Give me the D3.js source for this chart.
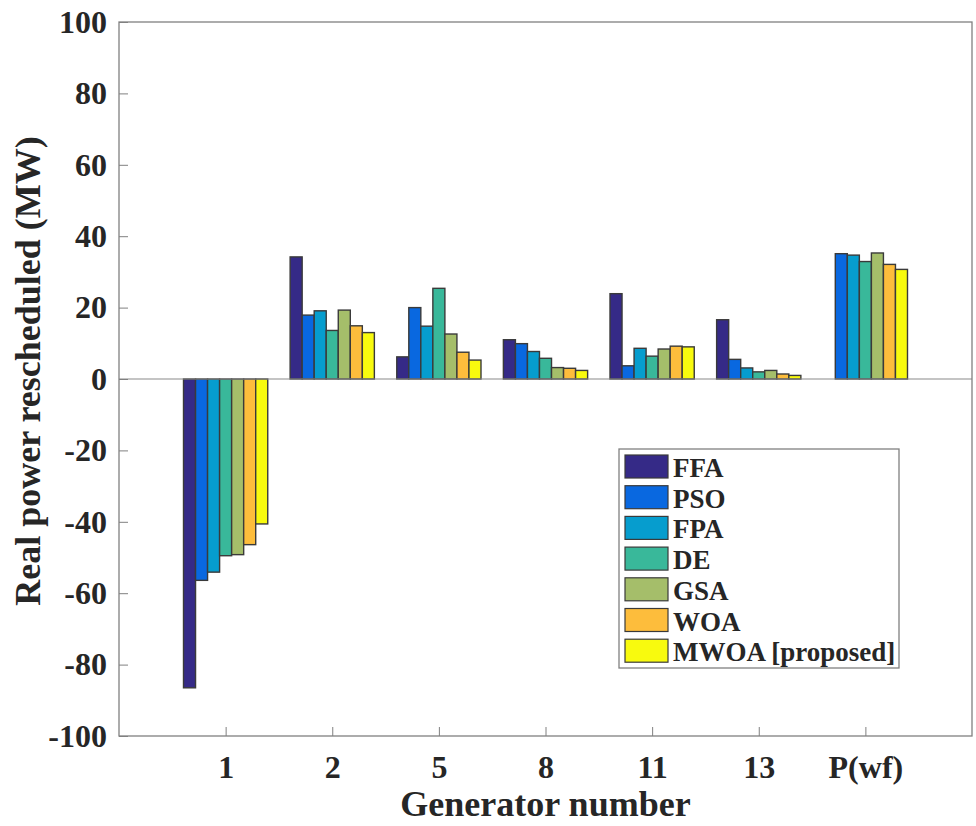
<!DOCTYPE html>
<html>
<head>
<meta charset="utf-8">
<script src="https://cdn.jsdelivr.net/npm/d3@7"></script>
<style>
  body { margin: 0; background: #fff; }
  text { font-family: "Liberation Serif", "Times New Roman", serif; font-weight: bold; fill: #262626; }
</style>
</head>
<body>
<div id="chart"></div>
<script>
// data
var generators = ["1", "2", "5", "8", "11", "13", "P(wf)"];
var methods = ["FFA", "PSO", "FPA", "DE", "GSA", "WOA", "MWOA [proposed]"];
var colors = ["#352a87", "#0968e0", "#069dce", "#39b89a", "#a5be6a", "#fdbd3c", "#f8fa0e"];
var FFA  = [-86.5, 34.2, 6.2, 11.0, 23.9, 16.6, 0];
var PSO  = [-56.4, 17.9, 20.0, 9.9, 3.7, 5.5, 35.1];
var FPA  = [-54.1, 19.1, 14.8, 7.7, 8.6, 3.1, 34.7];
var DE   = [-49.5, 13.6, 25.4, 5.8, 6.4, 2.0, 32.9];
var GSA  = [-49.2, 19.3, 12.6, 3.2, 8.4, 2.4, 35.3];
var WOA  = [-46.4, 14.9, 7.5, 3.0, 9.2, 1.4, 32.1];
var MWOA = [-40.6, 13.0, 5.3, 2.4, 9.0, 1.0, 30.7];
var yTicks = [-100, -80, -60, -40, -20, 0, 20, 40, 60, 80, 100];

var series = [FFA, PSO, FPA, DE, GSA, WOA, MWOA];

var W = 976, H = 826;
var margin = {top: 22, right: 4, bottom: 90, left: 119};
var width = W - margin.left - margin.right,
    height = H - margin.top - margin.bottom;

var svg = d3.select("#chart")
  .append("svg")
    .attr("width", W)
    .attr("height", H)
  .append("g")
    .attr("transform", "translate(" + margin.left + "," + margin.top + ")");

var x = d3.scaleLinear()
  .domain([0, generators.length + 1])
  .range([0, width]);

var y = d3.scaleLinear()
  .domain([-100, 100])
  .range([height, 0]);

var groupW = (x(1) - x(0)) * 0.79;
var xInner = d3.scaleBand()
  .domain(methods)
  .range([-groupW / 2, groupW / 2]);

// bars
series.forEach(function(vals, k) {
  svg.append("g")
    .selectAll("rect")
    .data(vals)
    .enter()
    .append("rect")
      .attr("x", function(d, i) { return x(i + 1) + xInner(methods[k]); })
      .attr("width", xInner.bandwidth())
      .attr("y", function(d) { return y(Math.max(d, 0)); })
      .attr("height", function(d) { return Math.abs(y(d) - y(0)); })
      .attr("fill", colors[k])
      .attr("stroke", "#3a3a3a")
      .attr("stroke-width", 1.4);
});

// zero baseline
svg.append("line")
  .attr("x1", 0).attr("x2", width)
  .attr("y1", y(0)).attr("y2", y(0))
  .attr("stroke", "#8a8a8a")
  .attr("stroke-width", 1.2);

// axes
var yAxis = svg.append("g")
  .call(d3.axisLeft(y)
    .tickValues(yTicks)
    .tickFormat(function(d) { return String(d); })
    .tickSize(-9).tickPadding(12));
yAxis.select(".domain").remove();
yAxis.selectAll("line").attr("stroke", "#808080");
yAxis.selectAll("text")
  .style("font-size", "32px")
  .attr("fill", "#262626");

var xAxis = svg.append("g")
  .attr("transform", "translate(0," + height + ")")
  .call(d3.axisBottom(x)
    .tickValues(d3.range(1, generators.length + 1))
    .tickFormat(function(d) { return generators[d - 1]; })
    .tickSize(-9).tickPadding(19));
xAxis.select(".domain").remove();
xAxis.selectAll("line").attr("stroke", "#808080");
xAxis.selectAll("text")
  .style("font-size", "32px")
  .attr("fill", "#262626");

// box
svg.append("rect")
  .attr("width", width)
  .attr("height", height)
  .attr("fill", "none")
  .attr("stroke", "#808080")
  .attr("stroke-width", 1.3);

// axis titles
svg.append("text")
  .attr("x", width / 2)
  .attr("y", height + 80)
  .attr("text-anchor", "middle")
  .style("font-size", "36px")
  .text("Generator number");

svg.append("text")
  .attr("transform", "translate(" + (40 - margin.left) + "," + (y(0) - 8) + ")rotate(-90)")
  .attr("text-anchor", "middle")
  .style("font-size", "36px")
  .text("Real power rescheduled (MW)");

// legend
var legend = svg.append("g")
  .attr("transform", "translate(" + (619 - margin.left) + "," + (449 - margin.top) + ")");
legend.append("rect")
  .attr("width", 280)
  .attr("height", 219)
  .attr("fill", "#fff")
  .attr("stroke", "#808080")
  .attr("stroke-width", 1.3);
var items = legend.selectAll(".item")
  .data(methods)
  .enter()
  .append("g")
    .attr("transform", function(d, i) { return "translate(6," + (6 + i * 30.7) + ")"; });
items.append("rect")
  .attr("width", 43)
  .attr("height", 23)
  .attr("fill", function(d, i) { return colors[i]; })
  .attr("stroke", "#3a3a3a")
  .attr("stroke-width", 1.2);
items.append("text")
  .attr("x", 48)
  .attr("y", 22)
  .style("font-size", "27px")
  .text(function(d) { return d; });
</script>
</body>
</html>
